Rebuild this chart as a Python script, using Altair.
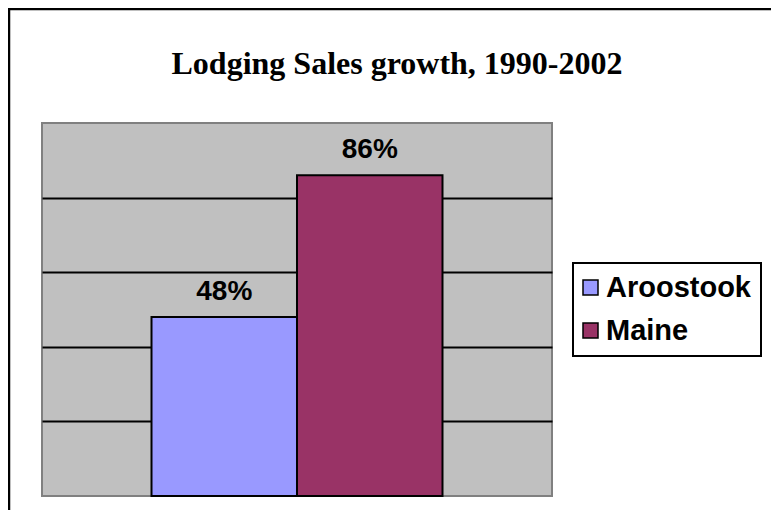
import altair as alt
import pandas as pd

title_text = "Lodging Sales growth, 1990-2002"
regions = ["Aroostook", "Maine"]
growth = [0.48, 0.86]
colors = ["#9999FF", "#993366"]
grid_values = [0.2, 0.4, 0.6, 0.8]

df = pd.DataFrame({"region": regions, "growth": growth})

x_enc = alt.X("region:N", axis=None,
              scale=alt.Scale(paddingInner=0, paddingOuter=0.7526),
              sort=regions)
y_scale = alt.Scale(domain=[0, 1], nice=False, zero=True)

bars = alt.Chart(df).mark_bar(stroke="black", strokeWidth=2).encode(
    x=x_enc,
    y=alt.Y("growth:Q", scale=y_scale,
            axis=alt.Axis(values=grid_values, labels=False, ticks=False,
                          domain=False, grid=True, gridColor="black",
                          gridWidth=2, gridOpacity=1, title=None)),
    color=alt.Color("region:N", sort=regions,
                    scale=alt.Scale(domain=regions, range=colors),
                    legend=alt.Legend(title=None, orient="none",
                                      legendX=531, legendY=140,
                                      symbolType="square", symbolSize=225,
                                      symbolStrokeColor="black",
                                      symbolStrokeWidth=1.5,
                                      labelFont="Liberation Sans",
                                      labelFontWeight="bold",
                                      labelFontSize=29, labelColor="black",
                                      labelLimit=400, rowPadding=13,
                                      labelOffset=1,
                                      padding=10, symbolOffset=-7,
                                      fillColor="white", strokeColor="black")),
)

labels = alt.Chart(df).mark_text(
    font="Liberation Sans", fontWeight="bold", fontSize=28,
    baseline="alphabetic", align="center", dy=-17, color="black"
).encode(
    x=x_enc,
    y=alt.Y("growth:Q", scale=y_scale),
    text=alt.Text("growth:Q", format=".0%"),
)

title = alt.Chart(alt.Data(values=[{"t": title_text}])).mark_text(
    font="Liberation Serif", fontWeight="bold", fontSize=32,
    baseline="alphabetic", align="center", color="black"
).encode(
    x=alt.value(355), y=alt.value(-49), text="t:N"
)

frame_data = alt.Data(values=[{"a": 1}])
frame_left = alt.Chart(frame_data).mark_rule(
    stroke="black", strokeWidth=2.5
).encode(
    x=alt.value(-33), y=alt.value(-114), y2=alt.value(700)
)
frame_top = alt.Chart(frame_data).mark_rule(
    stroke="black", strokeWidth=2.5
).encode(
    x=alt.value(-34), x2=alt.value(900), y=alt.value(-114)
)

chart = alt.layer(frame_left, frame_top, bars, labels, title).properties(
    width=510, height=373,
    autosize=alt.AutoSizeParams(type="none"),
    padding={"left": 34, "top": 115, "right": 219, "bottom": 14},
    background="white",
).configure_view(
    fill="#C0C0C0", stroke="#808080", strokeWidth=2
).configure_legend(
    strokeWidth=2
)

chart.save("out.html", embed_options={"renderer": "svg", "actions": False})
